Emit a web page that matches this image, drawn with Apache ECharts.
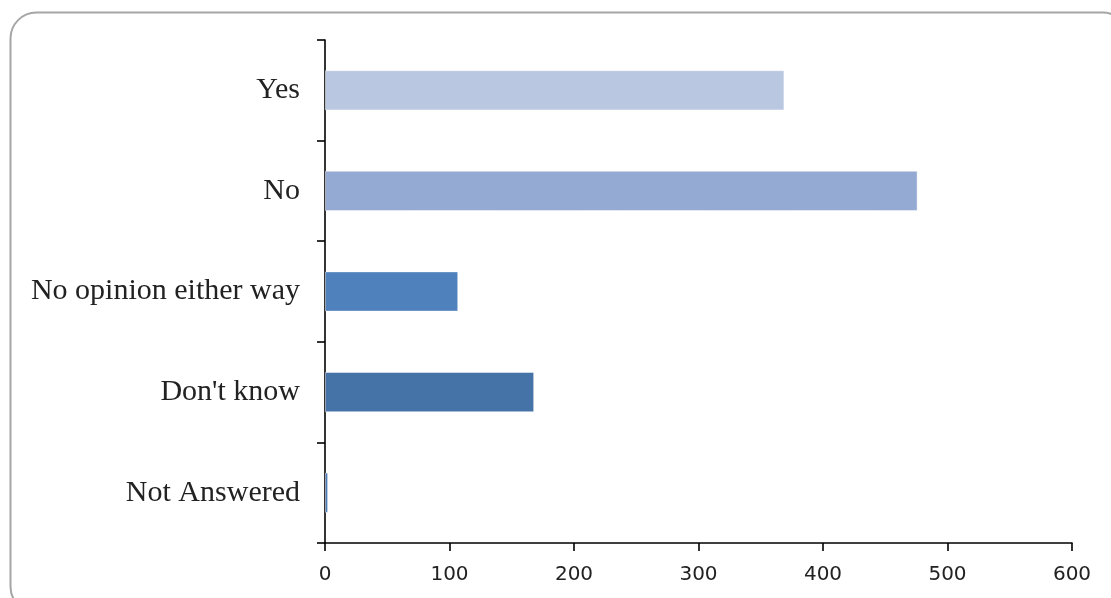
<!DOCTYPE html>
<html>
<head>
<meta charset="utf-8">
<script src="https://cdn.jsdelivr.net/npm/echarts@6/dist/echarts.min.js"></script>
<style>
html,body{margin:0;padding:0;background:#fff;}
#c{width:1111px;height:598px;}
</style>
</head>
<body>
<div id="c"></div>
<script>
const categories = ["Yes", "No", "No opinion either way", "Don't know", "Not Answered"];
const values = [369, 476, 107, 168, 2.5];
const barColors = ["#b9c7e1", "#95aad2", "#4f81bd", "#4572a7", "#4a7ab6"];
const xTicks = [0, 100, 200, 300, 400, 500, 600];

const chart = echarts.init(document.getElementById('c'), null, {renderer: 'canvas'});
chart.setOption({
  animation: false,
  backgroundColor: '#fff',
  graphic: [{
    type: 'rect',
    shape: {x: 10.5, y: 12.5, width: 1118, height: 600, r: 26},
    style: {fill: 'none', stroke: '#a6a6a6', lineWidth: 2},
    silent: true
  }],
  grid: {left: 325, right: 39, top: 40, bottom: 55, containLabel: false},
  xAxis: {
    type: 'value',
    min: xTicks[0],
    max: xTicks[xTicks.length - 1],
    interval: 100,
    splitLine: {show: false},
    axisLine: {show: true, lineStyle: {color: '#000', width: 1.6}},
    axisTick: {show: true, length: 8, lineStyle: {color: '#000', width: 1.6}},
    axisLabel: {color: '#222', fontFamily: 'DejaVu Sans', fontSize: 20, margin: 22}
  },
  yAxis: {
    type: 'category',
    data: categories,
    inverse: true,
    axisLine: {show: true, lineStyle: {color: '#000', width: 1.6}},
    axisTick: {show: true, length: 8, alignWithLabel: false, lineStyle: {color: '#000', width: 1.6}},
    axisLabel: {color: '#222', fontFamily: 'Liberation Serif', fontSize: 30, margin: 25, padding: [6, 0, 0, 0]}
  },
  series: [{
    type: 'bar',
    data: values.map((v, i) => ({value: v, itemStyle: {color: barColors[i]}})),
    barWidth: '40%',
    itemStyle: {borderColor: 'rgba(255,255,255,0.45)', borderWidth: 1}
  }]
});
</script>
</body>
</html>
